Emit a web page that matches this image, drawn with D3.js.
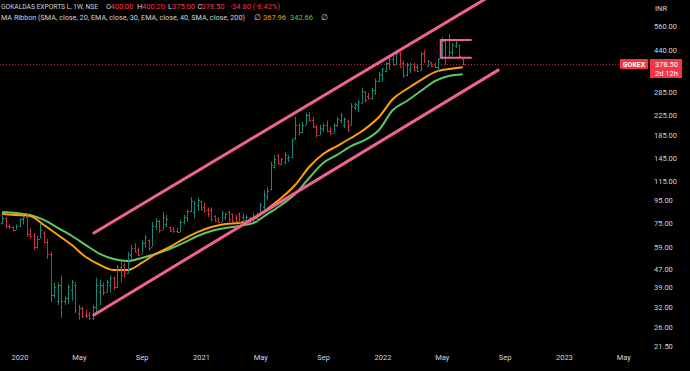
<!DOCTYPE html>
<html><head><meta charset="utf-8">
<script src="https://cdn.jsdelivr.net/npm/d3@7"></script>
<style>
html,body{margin:0;padding:0;background:#000;overflow:hidden}
svg{display:block}
text{font-family:Roboto,"Noto Sans",sans-serif}
</style></head><body>
<svg id="c" width="690" height="371"></svg>
<script>
// ---------- data (weekly bars, first week starting 2019-12-02) ----------
const firstWeek = "2019-12-02";
const opens  = [75,79,73,72,70,73,78,80,67,66,59,64,68,62,55,36,34,40,34,35,38,40,30,31.5,29.5,29.5,28.5,32,37,40,37,40,43,39,48,49,45,54,58,57,55,61,63,59,73,77,70,74,72,70.5,69.5,68.5,76,80,85,84,90,94,88,86,86,81,78,76,80,84,82,80,82,80,77,79,76,80,82,88,98,106,133,150,137,140,146,148,178,205,190,205,226,214,200,184,196,205,192,188,204,215,205,212,205,245,250,255,285,275,268,292,320,340,355,384,400,380,425,385,340,360,382,370,356,425,372,386,382,368,404,480,410,430,455,460,400];
const highs  = [81,80,74,73,74,79,81,82,71,68,66,75,69,64,56,41,41,44,35.5,40,42,41,32.5,32,31,30.3,32.6,43,42,41,42,44,43.5,49,50.5,50,56,60,61,58.5,63,66.5,63.5,76,79,77.5,84,81.5,72.5,72,71.4,77.5,81.5,86,98,94,97,94.5,92.5,88,88,81.5,79.8,85.3,83.6,85.3,82.8,81.5,83.6,82.8,81.5,79.8,82.8,83.6,92.5,105,108,140,150,152,146,155,150,178,222,207,210,231,233,222,204,204,207,214,200,208,222,231,221,215,255,257,263,298,288,283,298,328,350,365,388,408,417,438,430,394,385,385,385,376,430,438,396,388,384,404,500,485,515,471,485,461,400.2];
const lows   = [74,71,71,69,70,72,74,65,64,57,58,64,61,52,33.6,35,32.6,28.5,32.6,33,34,30,28,28.5,28.5,27.9,27.9,30.3,32.6,36,37,37,38,38.7,41,43,45,51.5,55.5,53.5,55,58.5,56.5,59,70,68,70,72,68.5,68,68,68.5,74,76,84,79,85,85.3,83.6,80,76,75.9,75.1,75.9,77.5,75.9,75.1,75.9,75.1,75.1,75.9,75.1,75.9,75.1,81.5,84,94.5,105,131,136,136,136,140,146,175,184,188,204,211,198,180,184,190,190,184,188,200,207,198,190,203,237,233,254,257,264,264,277,317,317,350,358,372,375,366,330,335,346,352,350,355,385,370,368,364,350,400,378,405,413,447,404,375];
const closes = [79,73,72,70,73,78,80,67,66,59,64,70,62,55,36,39,40,34,35,39,41,31,31.5,29,29,28.5,32,40,40,37,41,43,39,48,44,45,55,58,56,54,61,65,58,73,77,70,80,78,69,69,68.5,76,80,85,94,92,95,87,85,82,78,77,76,83,82,78,77,77,76,77,80,76,81,82,90,100,104,136,145,138,144,150,148,175,205,190,205,226,214,202,184,198,204,192,188,204,218,226,218,194,248,252,258,290,262,268,292,320,345,360,384,400,380,425,370,340,378,380,356,355,420,390,392,372,368,400,480,410,430,460,470,413.3,378.5];

// MA ribbon values read every 4 weeks (week index from firstWeek)
const maWeekIdx = [0,4,8,12,16,20,24,28,32,36,40,44,48,52,56,60,64,68,72,76,80,84,88,92,96,100,104,108,112,116,120,124,128,132];
const maOrange = [82.3,81.5,80.7,73.6,66.5,60.0,53.1,49.0,46.5,46.5,50.0,54.8,58.8,63.8,68.5,72.1,74.4,75.1,78.3,86.7,96.9,110.7,133.0,151.9,164.7,178.7,196.0,221.4,266.1,294.6,322.6,350.1,361.2,367.96];
const maGreen  = [84.0,83.2,81.5,77.5,71.4,65.8,60.0,54.8,52.0,51.0,52.6,54.8,57.6,61.3,65.8,69.2,71.4,72.9,75.1,82.3,90.3,101.0,118.9,138.5,150.4,164.7,175.2,194.0,237.7,260.6,288.5,319.5,336.2,342.66];

const priceTicks = [560,440,285,225,185,145,115,95,75,59,47,39,32,26,21.5];
const timeTickDates = ["2020-01-06","2020-05-04","2020-09-07","2021-01-04","2021-05-03","2021-09-06","2022-01-03","2022-05-02","2022-09-05","2023-01-02","2023-05-01"];
const timeTickLabels = ["2020","May","Sep","2021","May","Sep","2022","May","Sep","2023","May"];

// drawings (date, price)
const channelUpper = [["2020-06-03",67.8],["2022-08-15",778]];
const channelLower = [["2020-06-03",29.4],["2022-08-23",357]];
const boxDates = ["2022-04-30","2022-07-01"];
const boxPrices = [485,405];

const lastClose = 378.5;
const legend1 = {name:"GOKALDAS EXPORTS L, 1W, NSE", o:"400.00", h:"400.20", l:"375.00", c:"378.50", chg:"-34.80 (-8.42%)"};
const legend2 = {name:"MA Ribbon (SMA, close, 20, EMA, close, 30, EMA, close, 40, SMA, close, 200)", v1:"367.96", v2:"342.66"};

// ---------- drawing ----------
const W = 690, H = 371, paneW = 649, paneH = 349;
const svg = d3.select("#c");
svg.append("rect").attr("width",W).attr("height",H).attr("fill","#000");

const parse = d3.utcParse("%Y-%m-%d");
const t0 = parse(firstWeek);
const dates = opens.map((_, i) => d3.utcMonday.offset(t0, i));
const x = d3.scaleUtc().domain([dates[0], dates[dates.length-1]]).range([2.1, 462.7]);
const y = d3.scaleLog().domain([21.5, 560]).range([345.7, 26]);

const UP = "#12877a", DOWN = "#c92f3f", PINK = "#f06292", RED = "#f23645";
const TXT = "#d1d4dc";

svg.append("clipPath").attr("id","pane").append("rect").attr("width",paneW).attr("height",paneH);
const pane = svg.append("g").attr("clip-path","url(#pane)");

// last price dotted line
pane.append("line").attr("x1",0).attr("x2",620)
  .attr("y1",Math.round(y(lastClose))+0.5).attr("y2",Math.round(y(lastClose))+0.5)
  .attr("stroke",RED).attr("stroke-width",1).attr("stroke-dasharray","1,2").attr("opacity",0.75);

// MA lines
const maDates = maWeekIdx.map(i => d3.utcMonday.offset(t0, i));
const line = d3.line().x((d,i)=>x(maDates[i])).y(d=>y(d)).curve(d3.curveMonotoneX);
pane.append("path").datum(maGreen).attr("d",line).attr("fill","none").attr("stroke","#5cc85f").attr("stroke-width",2);
pane.append("path").datum(maOrange).attr("d",line).attr("fill","none").attr("stroke","#ff9f0a").attr("stroke-width",2);

// OHLC bars
const bars = pane.append("g");
dates.forEach((d, i) => {
  const xi = Math.round(x(d));
  const col = closes[i] >= opens[i] ? UP : DOWN;
  const yH = y(highs[i]), yL = y(lows[i]);
  bars.append("rect").attr("x",xi).attr("y",yH).attr("width",1).attr("height",Math.max(1,yL-yH)).attr("fill",col);
  bars.append("rect").attr("x",xi-1).attr("y",Math.round(y(opens[i]))).attr("width",1).attr("height",1).attr("fill",col);
  bars.append("rect").attr("x",xi+1).attr("y",Math.round(y(closes[i]))).attr("width",1).attr("height",1).attr("fill",col);
});

// channel lines
const pt = p => [x(parse(p[0])), y(p[1])];
[channelUpper, channelLower].forEach(c => {
  const a = pt(c[0]), b = pt(c[1]);
  pane.append("line").attr("x1",a[0]).attr("y1",a[1]).attr("x2",b[0]).attr("y2",b[1])
    .attr("stroke",PINK).attr("stroke-width",3).attr("stroke-linecap","round");
});
// box
const bx0 = x(parse(boxDates[0])), bx1 = x(parse(boxDates[1]));
const by0 = y(boxPrices[0]), by1 = y(boxPrices[1]);
pane.append("path").attr("d",`M${bx1},${by0}H${bx0}V${by1}H${bx1}`)
  .attr("fill","none").attr("stroke",PINK).attr("stroke-width",2);

// price axis
const yAxis = d3.axisRight(y).tickValues(priceTicks).tickSize(0).tickPadding(5).tickFormat(d3.format(".2f"));
const gy = svg.append("g").attr("transform",`translate(${paneW},0)`).call(yAxis);
gy.select(".domain").remove();
gy.selectAll("text").attr("fill",TXT).attr("font-size","7.5px").attr("font-family","Roboto,'Noto Sans',sans-serif");
svg.append("text").attr("x",655).attr("y",11).attr("fill",TXT).attr("font-size","7.5px").text("INR");

// time axis
const xAxis = d3.axisBottom(x).tickValues(timeTickDates.map(parse)).tickSize(0).tickPadding(0)
  .tickFormat((d,i)=>timeTickLabels[i]);
const gx = svg.append("g").attr("transform",`translate(0,352)`).call(xAxis);
gx.select(".domain").remove();
gx.selectAll("text").attr("fill",TXT).attr("font-size","7.5px").attr("dy","0.71em").attr("y",2.5)
  .attr("font-family","Roboto,'Noto Sans',sans-serif");

// price labels
const yl = Math.round(y(lastClose));
svg.append("rect").attr("x",620).attr("y",yl-5).attr("width",28).attr("height",10).attr("fill",RED).attr("rx",1);
svg.append("text").attr("x",634).attr("y",yl+2.6).attr("text-anchor","middle").attr("fill","#fff")
  .attr("font-size","7px").attr("font-weight","bold").text("GOKEX");
svg.append("rect").attr("x",650).attr("y",yl-5).attr("width",32).attr("height",19).attr("fill",RED);
svg.append("text").attr("x",655).attr("y",yl+2.7).attr("fill","#fff").attr("font-size","7.5px").text(d3.format(".2f")(lastClose));
svg.append("text").attr("x",655).attr("y",yl+11.5).attr("fill","#fff").attr("font-size","7.5px").text("2d 12h");

// legend
const lg = svg.append("g").attr("font-size","7.5px");
const put = (tx, xx, yy, col, len) => {
  const t = lg.append("text").attr("x",xx).attr("y",yy).attr("fill",col).text(tx);
  if (len) t.attr("textLength",len).attr("lengthAdjust","spacingAndGlyphs");
  return t;
};
put(legend1.name, 1, 8.7, TXT, 97).attr("font-size","7.2px");
put("O",106,8.7,TXT); put(legend1.o,110.5,8.7,RED);
put("H",137,8.7,TXT); put(legend1.h,142,8.7,RED);
put("L",168,8.7,TXT); put(legend1.l,172,8.7,RED);
put("C",197.5,8.7,TXT); put(legend1.c,201.5,8.7,RED);
put(legend1.chg,230,8.7,RED, 50);
put(legend2.name, 1, 19.7, TXT, 244);
put("\u2205",254,19.7,TXT);
put(legend2.v1,263,19.7,"#ff9f0a");
put(legend2.v2,290,19.7,"#5cc85f");
put("\u2205",321,19.7,TXT);
</script>
</body></html>
